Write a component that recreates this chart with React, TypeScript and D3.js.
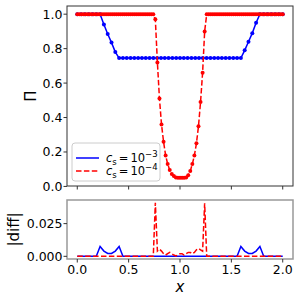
import React from "react";
import * as d3 from "d3";

// Grids (uniform sampling of x in [0, 2])
const xRed: number[] = d3.range(0, 101).map((i) => i * 0.02);
const xBlue: number[] = d3.range(0, 55).map((i) => (i * 2) / 54);

// Pi for c_s = 1e-4 (red, dashed)
const piRed: number[] = [
  1, 1, 1, 1, 1, 1, 1, 1, 1, 1,
  1, 1, 1, 1, 1, 1, 1, 1, 1, 1,
  1, 1, 1, 1, 1, 1, 1, 1, 1, 1,
  1, 1, 1, 1, 1, 1, 1, 1,
  0.97, 0.72, 0.51, 0.36, 0.26, 0.18, 0.13, 0.095, 0.072, 0.06,
  0.052, 0.05, 0.05, 0.05, 0.05, 0.052, 0.065, 0.09, 0.13, 0.18,
  0.25, 0.35, 0.49, 0.66, 0.9,
  1, 1, 1, 1, 1, 1, 1, 1, 1, 1,
  1, 1, 1, 1, 1, 1, 1, 1, 1, 1,
  1, 1, 1, 1, 1, 1, 1, 1, 1, 1,
  1, 1, 1, 1, 1, 1, 1, 1,
];

// Pi for c_s = 1e-3 (blue, solid)
const piBlue: number[] = [
  1, 1, 1, 1, 1, 1, 1,
  0.94, 0.885, 0.835, 0.78,
  0.745, 0.745, 0.745, 0.745, 0.745, 0.745, 0.745, 0.745, 0.745, 0.745,
  0.745, 0.745, 0.745, 0.745, 0.745, 0.745, 0.745, 0.745, 0.745, 0.745,
  0.745, 0.745, 0.745, 0.745, 0.745, 0.745, 0.745, 0.745, 0.745, 0.745,
  0.745, 0.745, 0.745,
  0.79, 0.84, 0.89, 0.95,
  1, 1, 1, 1, 1, 1, 1,
];

// |diff| for c_s = 1e-3 (blue grid)
const diffBlue: number[] = [
  0, 0, 0, 0, 0, 0,
  0.0075, 0.004, 0.0022, 0.0022, 0.004, 0.0075,
  0, 0, 0, 0, 0, 0, 0, 0, 0, 0,
  0, 0, 0, 0, 0, 0, 0, 0, 0, 0,
  0, 0, 0, 0, 0, 0, 0, 0, 0, 0,
  0,
  0.0075, 0.004, 0.0022, 0.0022, 0.004, 0.0075,
  0, 0, 0, 0, 0, 0,
];

// |diff| for c_s = 1e-4 (red grid)
const diffRed: number[] = [
  0, 0, 0, 0, 0, 0, 0, 0, 0, 0,
  0, 0, 0, 0, 0, 0, 0, 0, 0, 0,
  0, 0, 0, 0, 0, 0, 0, 0, 0, 0,
  0, 0, 0, 0, 0, 0, 0, 0,
  0.041, 0.004, 0.0055, 0.004, 0.002, 0.001, 0.002, 0.003, 0.002, 0.001,
  0.0003, 0.001, 0.002, 0.002, 0.001, 0.002, 0.003, 0.003, 0.002, 0.003,
  0.005, 0.006, 0.005, 0.004, 0.0405,
  0, 0, 0, 0, 0, 0, 0, 0, 0, 0,
  0, 0, 0, 0, 0, 0, 0, 0, 0, 0,
  0, 0, 0, 0, 0, 0, 0, 0, 0, 0,
  0, 0, 0, 0, 0, 0, 0, 0,
];

const xTicks: number[] = [0, 0.5, 1.0, 1.5, 2.0];
const xTickLabels: string[] = ["0.0", "0.5", "1.0", "1.5", "2.0"];
const piTicks: number[] = [0, 0.2, 0.4, 0.6, 0.8, 1.0];
const piTickLabels: string[] = ["0.0", "0.2", "0.4", "0.6", "0.8", "1.0"];
const diffTicks: number[] = [0, 0.025];
const diffTickLabels: string[] = ["0.000", "0.025"];

const BLUE = "#0000ff";
const RED = "#ff0000";
const FONT = "DejaVu Sans";

function padded(vals: number[]): [number, number] {
  const [lo, hi] = d3.extent(vals) as [number, number];
  const m = (hi - lo) * 0.05;
  return [lo - m, hi + m];
}

export default function App() {
  const L = 67, R = 293;
  const T1 = 6, B1 = 186;
  const T2 = 200, B2 = 259;

  const x = d3.scaleLinear().domain(padded([...xRed, ...xBlue])).range([L, R]);
  const yTop = d3.scaleLinear().domain(padded([...piRed, ...piBlue])).range([B1, T1]);
  const yBot = d3.scaleLinear().domain(padded([...diffRed, ...diffBlue])).range([B2, T2]);

  const lineTop = (xs: number[]) =>
    d3.line<number>().x((_, i) => x(xs[i])).y((d) => yTop(d));
  const lineBot = (xs: number[]) =>
    d3.line<number>().x((_, i) => x(xs[i])).y((d) => yBot(d));

  const dash = "5.5,2.4";
  const tickLen = 3.5;

  return (
    <svg
      width={300}
      height={300}
      style={{ position: "absolute", left: 0, top: 0, background: "#fff" }}
      fontFamily={FONT}
    >
      <rect x={0} y={0} width={300} height={300} fill="#fff" />

      {/* Top panel */}
      <path d={lineTop(xBlue)(piBlue) || ""} fill="none" stroke={BLUE} strokeWidth={1.5} />
      {piBlue.map((v, i) => (
        <circle key={"bm" + i} cx={x(xBlue[i])} cy={yTop(v)} r={2} fill={BLUE} />
      ))}
      <path
        d={lineTop(xRed)(piRed) || ""}
        fill="none"
        stroke={RED}
        strokeWidth={1.5}
        strokeDasharray={dash}
      />
      {piRed.map((v, i) => (
        <circle key={"rm" + i} cx={x(xRed[i])} cy={yTop(v)} r={2} fill={RED} />
      ))}

      <rect x={L} y={T1} width={R - L} height={B1 - T1} fill="none" stroke="#333" strokeWidth={1} />
      {xTicks.map((t, i) => (
        <line key={"xt1" + i} x1={x(t)} x2={x(t)} y1={B1} y2={B1 + tickLen} stroke="#333" strokeWidth={1} />
      ))}
      {piTicks.map((t, i) => (
        <g key={"yt1" + i}>
          <line x1={L - tickLen} x2={L} y1={yTop(t)} y2={yTop(t)} stroke="#333" strokeWidth={1} />
          <text x={62.5} y={yTop(t)} dy="0.36em" textAnchor="end" fontSize={12.5} fill="#000">
            {piTickLabels[i]}
          </text>
        </g>
      ))}
      <text
        transform={`translate(36, ${(T1 + B1) / 2}) rotate(-90)`}
        textAnchor="middle"
        fontSize={15}
        fill="#000"
      >
        Π
      </text>

      {/* Legend */}
      <rect x={72} y={143} width={88} height={38} rx={3} fill="#fff" fillOpacity={0.8} stroke="#cccccc" strokeWidth={1} />
      <line x1={76} x2={99} y1={158} y2={158} stroke={BLUE} strokeWidth={1.5} />
      <line x1={76} x2={99} y1={171} y2={171} stroke={RED} strokeWidth={1.5} strokeDasharray={dash} />
      {["−3", "−4"].map((e, i) => (
        <text key={"lg" + i} x={106} y={162 + i * 13} fontSize={11.5} fill="#000">
          <tspan fontStyle="italic">c</tspan>
          <tspan fontSize={8.5} dy={2.5}>s</tspan>
          <tspan dy={-2.5} dx={2}>=</tspan>
          <tspan dx={2}>10</tspan>
          <tspan fontSize={8.5} dy={-5}>{e}</tspan>
        </text>
      ))}

      {/* Bottom panel */}
      <path d={lineBot(xBlue)(diffBlue) || ""} fill="none" stroke={BLUE} strokeWidth={1.5} />
      <path
        d={lineBot(xRed)(diffRed) || ""}
        fill="none"
        stroke={RED}
        strokeWidth={1.5}
        strokeDasharray={dash}
      />
      <rect x={L} y={T2} width={R - L} height={B2 - T2} fill="none" stroke="#999" strokeWidth={1.5} />
      {xTicks.map((t, i) => (
        <g key={"xt2" + i}>
          <line x1={x(t)} x2={x(t)} y1={B2} y2={B2 + tickLen} stroke="#333" strokeWidth={1} />
          <text x={x(t)} y={274} textAnchor="middle" fontSize={12.5} fill="#000">
            {xTickLabels[i]}
          </text>
        </g>
      ))}
      {diffTicks.map((t, i) => (
        <g key={"yt2" + i}>
          <line x1={L - tickLen} x2={L} y1={yBot(t)} y2={yBot(t)} stroke="#333" strokeWidth={1} />
          <text x={62.5} y={yBot(t)} dy="0.36em" textAnchor="end" fontSize={12.5} fill="#000">
            {diffTickLabels[i]}
          </text>
        </g>
      ))}
      <text
        transform={`translate(19, ${(T2 + B2) / 2}) rotate(-90)`}
        textAnchor="middle"
        fontSize={15}
        fill="#000"
      >
        |diff|
      </text>
      <text x={180} y={292} textAnchor="middle" fontSize={15} fontStyle="italic" fill="#000">
        x
      </text>
    </svg>
  );
}
